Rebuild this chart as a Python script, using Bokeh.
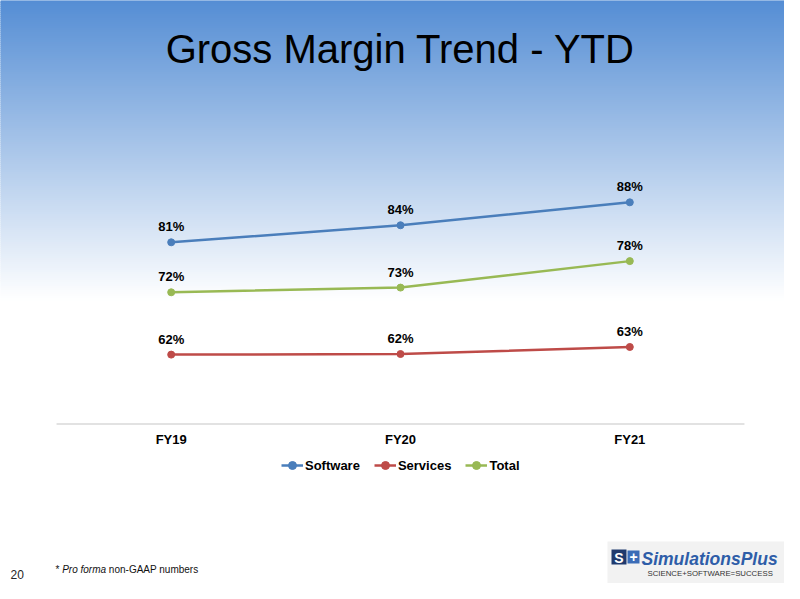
import numpy as np
from bokeh.plotting import figure
from bokeh.models import ColumnDataSource, Range1d, Legend, LegendItem
from bokeh.core.properties import value
from bokeh.embed import file_html
from bokeh.resources import INLINE

# ---------------- data ----------------
categories = ["FY19", "FY20", "FY21"]
software = [80.9, 83.8, 87.7]
services = [61.8, 61.9, 63.1]
total = [72.4, 73.2, 77.7]
series_names = ["Software", "Services", "Total"]
series_colors = ["#4A7EBB", "#BE4B48", "#98B954"]
title_text = "Gross Margin Trend - YTD"
footnote_parts = ["*", "Pro forma", "non-GAAP numbers"]
page_number = "20"
logo_name = "SimulationsPlus"
logo_tag = "SCIENCE+SOFTWARE=SUCCESS"
y_min = 50

# ---------------- layout constants ----------------
FONT = "Liberation Sans"
W, H = 784, 583
PX_PER_PCT = 5.88
AXIS_Y = 423.5
X0 = 170.7
BAND = 229.3
FOOT = 8   # footer lifted so it fits the figure

y_top = y_min + AXIS_Y / PX_PER_PCT
y_bot = y_min - (H - AXIS_Y) / PX_PER_PCT
ncat = len(categories)
x_start = 0.5 - X0 / BAND
x_end = 0.5 + (W - X0) / BAND
xpos = [i + 0.5 for i in range(ncat)]   # category band centres

p = figure(width=W, height=H,
           x_range=Range1d(x_start, x_end),
           y_range=Range1d(y_bot, y_top),
           output_backend="svg", toolbar_location=None,
           x_axis_location=None, y_axis_location=None,
           min_border=0, outline_line_color=None,
           background_fill_color="white", border_fill_color="white")
for g in p.grid:
    g.visible = False

p.extra_x_ranges = {"px": Range1d(0, W)}
p.extra_y_ranges = {"py": Range1d(H, 0)}

# ---------------- background gradient ----------------
top_rgb = np.array([84, 141, 212])
white = np.array([255, 255, 255])
edges = np.linspace(0, 300, 151)
mids = (edges[:-1] + edges[1:]) / 2
cols = []
for yv in mids:
    t = min(max(yv / 300.0, 0), 1)
    c = top_rgb + (white - top_rgb) * t
    cols.append("#%02x%02x%02x" % tuple(int(round(v)) for v in c))
p.quad(left=0, right=W, top=edges[:-1], bottom=edges[1:], fill_color=cols,
       line_color=cols, line_width=1, x_range_name="px", y_range_name="py")

# ---------------- title ----------------
p.text(x=[400], y=[48.5], text=[title_text], text_align="center", text_baseline="alphabetic",
       text_font=value(FONT), text_font_size="40px", text_color="black",
       x_range_name="px", y_range_name="py")

# ---------------- category axis line and labels ----------------
p.segment(x0=[0], x1=[ncat], y0=[y_min], y1=[y_min],
          line_color="#D9D9D9", line_width=1.3)
p.text(x=xpos, y=[y_min] * ncat, text=categories, y_offset=15,
       text_align="center", text_baseline="alphabetic", text_font=value(FONT),
       text_font_style="bold", text_font_size="13px", text_color="black")

# ---------------- series ----------------
items = []
for name, vals, color in zip(series_names, [software, services, total], series_colors):
    src = ColumnDataSource(dict(x=xpos, y=vals, label=[f"{v:.0f}%" for v in vals]))
    r1 = p.line("x", "y", source=src, line_color=color, line_width=2.5)
    r2 = p.scatter("x", "y", source=src, size=7, fill_color=color, line_color=color)
    p.text("x", "y", text="label", source=src, y_offset=-15.5, text_align="center",
           text_baseline="alphabetic", text_font=value(FONT), text_font_style="bold",
           text_font_size="13px", text_color="black")
    items.append(LegendItem(label=name, renderers=[r1, r2]))

legend = Legend(items=items, orientation="horizontal", location=(281, H - 465 - 10),
                padding=0, margin=0, spacing=14, glyph_width=22, glyph_height=20,
                label_standoff=2, label_height=20, label_width=10,
                border_line_color=None, background_fill_alpha=0,
                label_text_font=FONT, label_text_font_style="bold",
                label_text_font_size="13px", label_text_color="black")
p.add_layout(legend)

# ---------------- footnote & page number ----------------
fx = [55, 55 + 6.67, 55 + 6.67 + 43.9 + 2.8]
styles = ["normal", "italic", "normal"]
for xx, part, st in zip(fx, footnote_parts, styles):
    p.text(x=[xx], y=[577 - FOOT], text=[part], text_align="left", text_baseline="alphabetic",
           text_font=value(FONT), text_font_style=st, text_font_size="10px",
           text_color="#111111", x_range_name="px", y_range_name="py")
p.text(x=[10], y=[582 - FOOT], text=[page_number], text_align="left", text_baseline="alphabetic",
       text_font=value(FONT), text_font_size="12px", text_color="#262626",
       x_range_name="px", y_range_name="py")

# ---------------- logo ----------------
p.quad(left=[607], right=[785], top=[549 - FOOT], bottom=[H + 5], fill_color="#F2F2F2",
       line_color=None, x_range_name="px", y_range_name="py")
p.quad(left=[611], right=[626], top=[557 - FOOT], bottom=[572 - FOOT], fill_color="#1F3A6E",
       line_color=None, x_range_name="px", y_range_name="py")
p.quad(left=[627], right=[639], top=[558 - FOOT], bottom=[571 - FOOT], fill_color="#3B6CB7",
       line_color=None, x_range_name="px", y_range_name="py")
p.text(x=[618.5, 633], y=[565 - FOOT, 564.5 - FOOT], text=["S", "+"], text_align="center",
       text_baseline="alphabetic", text_font=value(FONT), text_font_style="bold",
       text_font_size="14px", text_color="white", x_range_name="px", y_range_name="py")
p.text(x=[641], y=[566.5 - FOOT], text=[logo_name], text_align="left", text_baseline="alphabetic",
       text_font=value(FONT), text_font_style="bold italic", text_font_size="17.5px",
       text_color="#2E5DA8", x_range_name="px", y_range_name="py")
p.text(x=[647], y=[580.5 - FOOT], text=[logo_tag], text_align="left", text_baseline="alphabetic",
       text_font=value(FONT), text_font_size="7.8px", text_color="#333333",
       x_range_name="px", y_range_name="py")

open("out.html", "w").write(file_html(p, INLINE))
